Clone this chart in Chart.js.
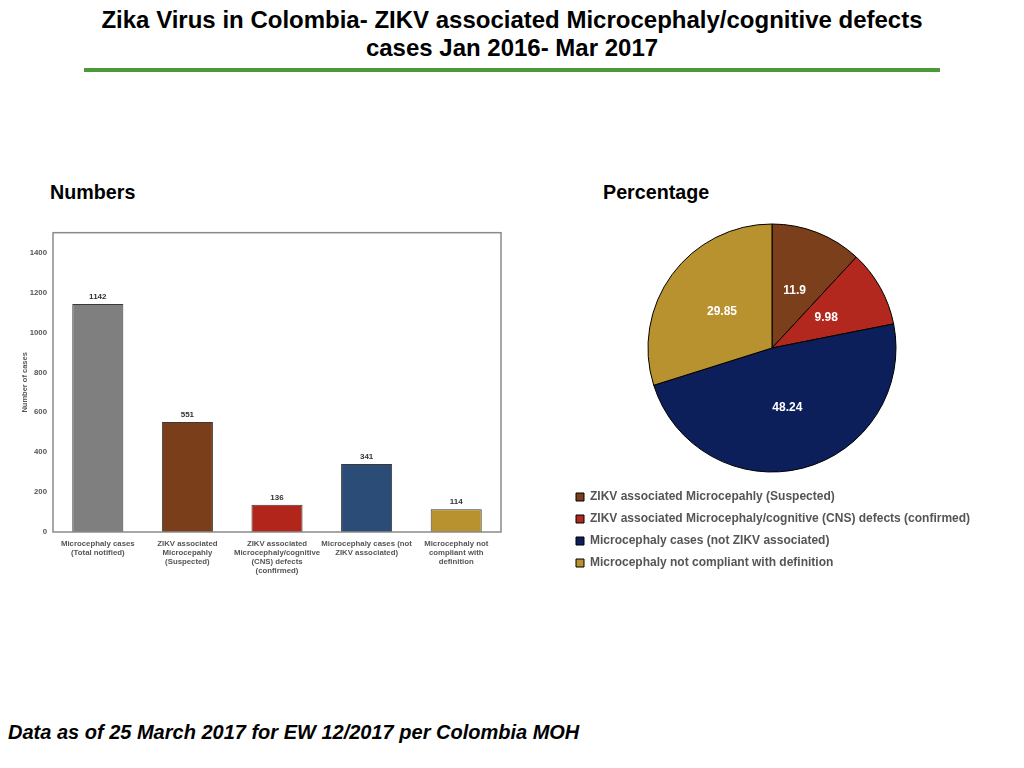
<!DOCTYPE html>
<html>
<head>
<meta charset="utf-8">
<script src="https://cdn.jsdelivr.net/npm/chart.js@4.4.1/dist/chart.umd.min.js"></script>
<style>
  body { margin: 0; background: #fff; font-family: "Liberation Sans", Arial, sans-serif; }
  #page { position: relative; width: 1024px; height: 768px; overflow: hidden; }
  .title { position: absolute; left: 0; width: 1024px; top: 6px; text-align: center;
           font-weight: bold; font-size: 24px; line-height: 28px; color: #000; }
  .rule { position: absolute; left: 84px; top: 68px; width: 856px; height: 4px; background: #4a9a3a; }
  .sub { position: absolute; top: 181px; font-weight: bold; font-size: 19.7px; color: #000; }
  .foot { position: absolute; left: 8px; top: 721px; font-weight: bold; font-style: italic; font-size: 20px; line-height: 23px; color: #000; }
  #bars { position: absolute; left: 10px; top: 222px; }
  #pie { position: absolute; left: 566px; top: 215px; }
</style>
</head>
<body>
<div id="page">
  <div class="title">Zika Virus in Colombia- ZIKV associated Microcephaly/cognitive defects<br>cases Jan 2016- Mar 2017</div>
  <div class="rule"></div>
  <div class="sub" style="left:50px">Numbers</div>
  <div class="sub" style="left:603px">Percentage</div>
  <canvas id="bars" width="500" height="373"></canvas>
  <canvas id="pie" width="424" height="364"></canvas>
  <div class="foot">Data as of 25 March 2017 for EW 12/2017 per Colombia MOH</div>
</div>
<script>
// --- data ---
const barLabels = [
  ["Microcephaly cases", "(Total notified)"],
  ["ZIKV associated", "Microcepahly", "(Suspected)"],
  ["ZIKV associated", "Microcephaly/cognitive", "(CNS) defects", "(confirmed)"],
  ["Microcephaly cases (not", "ZIKV associated)"],
  ["Microcephaly not", "compliant with", "definition"]
];
const barValues = [1142, 551, 136, 341, 114];
const barColors = ["#7f7f7f", "#7a3f1a", "#b1251b", "#2b4c76", "#b8922f"];
const yTicks = [0, 200, 400, 600, 800, 1000, 1200, 1400];

const pieLabels = [
  "ZIKV associated Microcepahly (Suspected)",
  "ZIKV associated Microcephaly/cognitive (CNS) defects (confirmed)",
  "Microcephaly cases (not ZIKV associated)",
  "Microcephaly not compliant with definition"
];
const pieValues = [11.9, 9.98, 48.24, 29.85];
const pieColors = ["#7b3f1b", "#b2281e", "#0c1f5b", "#b8922f"];

const FONT = "'Liberation Sans', Arial, sans-serif";

// box round the plot area
const frame = {
  id: "frame",
  afterDraw(chart) {
    const a = chart.chartArea, c = chart.ctx;
    c.save();
    c.strokeStyle = "#8a8a8a";
    c.lineWidth = 1.5;
    c.strokeRect(a.left, a.top, a.right - a.left, a.bottom - a.top);
    c.restore();
  }
};

// numbers above the bars
const barValueLabels = {
  id: "barValueLabels",
  afterDatasetsDraw(chart) {
    const c = chart.ctx;
    c.save();
    c.font = "bold 8px " + FONT;
    c.fillStyle = "#333";
    c.textAlign = "center";
    c.textBaseline = "bottom";
    chart.getDatasetMeta(0).data.forEach((bar, i) => {
      c.fillText(barValues[i], bar.x, bar.y - 3);
    });
    c.restore();
  }
};

// numbers inside the slices
const pieValueLabels = {
  id: "pieValueLabels",
  afterDatasetsDraw(chart) {
    const c = chart.ctx;
    c.save();
    c.font = "bold 12px " + FONT;
    c.fillStyle = "#fff";
    c.textAlign = "center";
    c.textBaseline = "middle";
    chart.getDatasetMeta(0).data.forEach((arc, i) => {
      const p = arc.tooltipPosition();
      c.fillText(pieValues[i], p.x, p.y);
    });
    c.restore();
  }
};

new Chart(document.getElementById("bars"), {
  type: "bar",
  data: {
    labels: barLabels,
    datasets: [{
      data: barValues,
      backgroundColor: barColors,
      borderColor: "#3a3a3a",
      borderWidth: 1,
      barPercentage: 0.57,
      categoryPercentage: 1
    }]
  },
  options: {
    responsive: false,
    animation: false,
    layout: { padding: { top: 7, right: 9, left: 0, bottom: 0 } },
    plugins: { legend: { display: false }, tooltip: { enabled: false } },
    scales: {
      x: {
        grid: { display: false, drawTicks: false },
        border: { display: false },
        ticks: { color: "#555", font: { family: FONT, size: 7.8, weight: "bold", lineHeight: 1.15 }, maxRotation: 0, autoSkip: false, padding: 7 },
        afterFit(s) { s.height = 63; }
      },
      y: {
        min: 0,
        max: 1500,
        grid: { display: false, drawTicks: false },
        border: { display: false },
        afterBuildTicks(s) { s.ticks = yTicks.map(v => ({ value: v })); },
        ticks: { color: "#555", font: { family: FONT, size: 7.8, weight: "bold" }, padding: 6, callback: v => String(v) },
        title: { display: true, text: "Number of cases", color: "#555", font: { family: FONT, size: 7.5, weight: "bold" }, padding: { top: 10, bottom: 0 } },
        afterFit(s) { s.width = 43; }
      }
    }
  },
  plugins: [frame, barValueLabels]
});

new Chart(document.getElementById("pie"), {
  type: "pie",
  data: {
    labels: pieLabels,
    datasets: [{
      data: pieValues,
      backgroundColor: pieColors,
      borderColor: "#000",
      borderWidth: 1,
      radius: 124
    }]
  },
  options: {
    responsive: false,
    animation: false,
    layout: { padding: { top: 0, bottom: 0, left: 0, right: 12 } },
    plugins: {
      tooltip: { enabled: false },
      legend: {
        position: "bottom",
        align: "start",
        labels: {
          boxWidth: 8,
          boxHeight: 8,
          padding: 10,
          color: "#555",
          font: { family: FONT, size: 12, weight: "bold" }
        }
      }
    }
  },
  plugins: [pieValueLabels]
});
</script>
</body>
</html>
